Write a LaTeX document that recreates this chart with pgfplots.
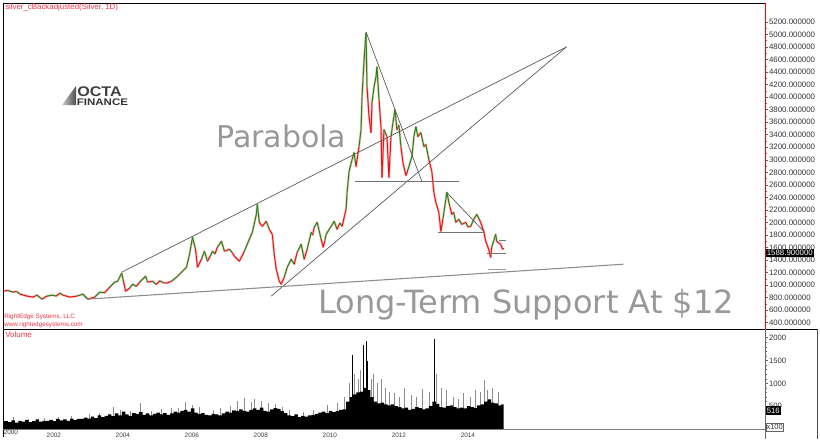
\documentclass[border=0pt]{standalone}
\usepackage{pgfplots}
\pgfplotsset{compat=1.18}
\usepackage{pgfplotstable}
\usepackage{fontspec}
\setmainfont{Liberation Sans}
\newfontfamily\dejavu{DejaVu Sans}
\definecolor{rered}{RGB}{240,50,70}
\definecolor{candlered}{RGB}{232,20,20}
\definecolor{candlegreen}{RGB}{20,140,20}
\definecolor{txtgray}{RGB}{152,152,152}
\definecolor{linegray}{RGB}{85,85,85}

\pgfplotstableread{
t p m
2000.757 904 0
2000.900 915 1
2001.046 888 0
2001.150 900 1
2001.249 857 0
2001.451 825 0
2001.624 809 0
2001.740 841 1
2001.884 777 0
2002.029 825 1
2002.202 841 1
2002.300 825 0
2002.405 872 1
2002.491 841 0
2002.694 809 0
2002.896 825 1
2003.069 857 1
2003.214 777 0
2003.416 809 1
2003.561 888 1
2003.705 880 0
2003.850 968 1
2003.994 1047 1
2004.081 1063 1
2004.197 1191 1
2004.254 1047 0
2004.312 904 0
2004.428 952 1
2004.514 1016 1
2004.620 980 0
2004.717 1047 1
2004.890 1143 1
2004.948 1047 0
2005.092 1063 1
2005.200 1010 0
2005.295 1070 1
2005.400 1040 0
2005.497 1032 0
2005.642 1063 1
2005.786 1127 1
2005.931 1207 1
2006.075 1286 1
2006.162 1493 1
2006.249 1763 1
2006.335 1573 0
2006.393 1286 0
2006.509 1413 1
2006.595 1541 1
2006.682 1382 0
2006.760 1460 1
2006.827 1541 1
2006.900 1500 0
2006.971 1604 1
2007.087 1700 1
2007.173 1541 0
2007.318 1573 1
2007.400 1520 0
2007.462 1461 0
2007.607 1382 0
2007.751 1541 1
2007.896 1732 1
2007.983 1843 1
2008.098 2129 1
2008.127 2288 1
2008.185 2002 0
2008.272 1938 0
2008.387 2018 1
2008.474 1891 0
2008.561 1811 0
2008.618 1493 0
2008.676 1254 0
2008.763 1063 0
2008.821 1016 0
2008.908 1127 1
2008.994 1286 1
2009.110 1413 1
2009.197 1334 0
2009.283 1525 1
2009.399 1652 1
2009.486 1413 0
2009.572 1573 1
2009.688 1843 1
2009.730 1800 0
2009.775 1923 1
2009.861 2002 1
2009.977 1732 0
2010.035 1604 0
2010.080 1700 1
2010.121 1811 1
2010.266 1938 1
2010.353 2018 1
2010.439 1891 0
2010.520 1990 1
2010.584 1938 0
2010.699 2209 1
2010.728 2479 1
2010.786 2813 1
2010.873 3004 1
2010.931 3116 1
2010.988 2893 0
2011.075 3211 1
2011.133 3482 1
2011.162 4007 1
2011.220 4595 1
2011.277 5025 1
2011.306 4166 0
2011.364 3689 0
2011.422 3434 0
2011.451 3911 1
2011.509 4166 1
2011.566 4325 1
2011.595 4484 1
2011.653 3959 0
2011.711 3529 0
2011.740 2718 0
2011.798 3482 1
2011.884 3370 0
2011.942 2718 0
2012.000 3370 1
2012.058 3593 1
2012.116 3800 1
2012.173 3482 0
2012.230 3550 1
2012.289 3211 0
2012.347 2957 0
2012.434 2750 0
2012.480 2820 1
2012.520 2893 1
2012.607 3052 1
2012.665 3370 1
2012.723 3529 1
2012.780 3370 0
2012.867 3434 1
2012.954 3211 0
2013.012 3243 1
2013.098 3004 0
2013.185 2813 0
2013.243 2479 0
2013.301 2320 0
2013.387 2161 0
2013.445 1859 0
2013.503 2050 1
2013.590 2368 1
2013.618 2479 1
2013.705 2257 0
2013.763 2129 0
2013.820 2160 1
2013.879 2002 0
2013.965 2050 1
2014.052 1970 0
2014.168 2002 1
2014.230 1930 0
2014.312 1938 1
2014.399 2050 1
2014.486 2129 1
2014.550 2060 0
2014.601 2002 0
2014.688 1859 0
2014.746 1700 0
2014.832 1573 0
2014.890 1445 0
2014.919 1604 1
2015.035 1811 1
2015.064 1700 0
2015.179 1652 0
2015.237 1573 0
2015.266 1589 1
}\pricetable

\pgfplotstableread{
t v
2000.757 170
2000.9 150
2001.0 190
2001.1 140
2001.2 180
2001.3 160
2001.4 200
2001.5 150
2001.6 170
2001.7 210
2001.8 160
2001.9 180
2002.0 180
2002.1 200
2002.2 170
2002.3 220
2002.4 190
2002.5 210
2002.6 180
2002.7 230
2002.8 200
2002.9 220
2003.0 220
2003.1 250
2003.2 230
2003.3 270
2003.4 240
2003.5 300
2003.6 260
2003.7 290
2003.8 320
2003.9 280
2004.0 340
2004.1 300
2004.2 380
2004.3 320
2004.4 290
2004.5 350
2004.6 330
2004.7 370
2004.8 310
2004.9 340
2005.0 300
2005.1 330
2005.2 360
2005.3 320
2005.4 350
2005.5 310
2005.6 340
2005.7 380
2005.8 360
2005.9 400
2006.0 420
2006.1 380
2006.2 450
2006.3 360
2006.4 330
2006.5 350
2006.6 310
2006.7 300
2006.8 330
2006.9 320
2007.0 300
2007.1 340
2007.2 380
2007.3 360
2007.4 410
2007.5 390
2007.6 430
2007.7 400
2007.8 380
2007.9 420
2008.0 450
2008.1 420
2008.2 470
2008.3 400
2008.4 380
2008.5 430
2008.6 460
2008.7 440
2008.8 390
2008.9 350
2009.0 300
2009.1 280
2009.2 320
2009.3 260
2009.4 290
2009.5 270
2009.6 300
2009.7 310
2009.8 330
2009.9 360
2010.0 380
2010.1 350
2010.2 400
2010.3 370
2010.4 390
2010.5 420
2010.6 430
2010.7 600
2010.8 700
2010.9 760
2011.0 800
2011.1 820
2011.2 900
2011.3 850
2011.4 700
2011.5 600
2011.6 560
2011.7 580
2011.8 540
2011.9 520
2012.0 540
2012.1 500
2012.2 480
2012.3 450
2012.4 470
2012.5 420
2012.6 440
2012.7 480
2012.8 460
2012.9 430
2013.0 450
2013.1 500
2013.2 600
2013.3 550
2013.4 480
2013.5 470
2013.6 500
2013.7 520
2013.8 480
2013.9 450
2014.0 470
2014.1 450
2014.2 500
2014.3 480
2014.4 460
2014.5 520
2014.6 540
2014.7 600
2014.8 650
2014.9 580
2015.0 560
2015.1 520
2015.2 540
2015.266 516
}\voltable

\pgfplotstableread{
t v
2001.05 260
2001.5 230
2001.95 240
2002.35 260
2002.75 290
2003.25 320
2003.55 340
2003.95 480
2004.15 420
2004.45 400
2004.75 560
2005.05 400
2005.35 430
2005.65 470
2005.85 450
2006.05 600
2006.25 520
2006.45 480
2006.85 420
2007.05 450
2007.35 500
2007.55 620
2007.75 680
2007.95 600
2008.05 660
2008.25 620
2008.45 560
2008.65 540
2008.85 480
2009.05 420
2009.45 380
2009.75 420
2010.15 520
2010.45 560
2010.65 700
2010.80 1000
2010.95 1200
2011.05 1100
2011.12 1300
2011.42 1100
2011.50 1200
2011.62 1000
2011.72 1100
2011.85 900
2011.95 820
2012.10 780
2012.25 700
2012.40 900
2012.60 750
2012.75 700
2012.90 880
2013.10 800
2013.32 1200
2013.45 900
2013.60 850
2013.80 700
2013.95 650
2014.10 780
2014.30 700
2014.45 850
2014.60 800
2014.70 1080
2014.80 860
2014.95 900
2015.10 800
}\volspikes

\pgfplotstableread{
t v
2010.87 1620
2011.20 1840
2011.28 1930
2011.33 1500
2013.25 1980
}\volbig

\begin{document}
\begin{tikzpicture}
\useasboundingbox (0,0) rectangle (615pt,-329.25pt);

% ---------------- price panel ----------------
\begin{axis}[
  at={(2.25pt,-2.25pt)}, anchor=north west,
  scale only axis, width=571.5pt, height=244.5pt,
  xmin=2000.757, xmax=2022.84,
  ymin=300, ymax=5502,
  axis line style={draw=none},
  xtick=\empty,
  ytick={400,600,...,5200},
  minor y tick num=1,
  ytick pos=right,
  tick align=outside,
  major tick length=2.25pt, minor tick length=1.2pt,
  tick style={black!60, line width=0.4pt},
  scaled y ticks=false,
  /pgf/number format/assume math mode=true,
  yticklabel style={/pgf/number format/fixed, /pgf/number format/fixed zerofill,
    /pgf/number format/precision=6, /pgf/number format/1000 sep={},
    font=\fontsize{5.9}{6}\selectfont, text=black!80, inner sep=0.6pt},
  colormap={rg}{color=(candlered) color=(candlegreen)},
  point meta min=0, point meta max=1,
]
\addplot[no marks, draw=candlered!28, line width=1.7pt, line join=round] table[x=t, y=p] {\pricetable};
\addplot[mesh, shader=flat corner, point meta=explicit, line width=0.75pt] table[x=t, y=p, meta=m] {\pricetable};

% trend lines
\addplot[linegray, line width=0.5pt] coordinates {(2004.197,1207) (2017.087,4802)};
\addplot[linegray, line width=0.5pt] coordinates {(2008.532,825) (2017.087,4802)};
\addplot[black!45, line width=0.8pt] coordinates {(2003.214,777) (2018.734,1334)};
\addplot[linegray, line width=0.5pt] coordinates {(2011.277,5041) (2012.896,2654)};
\addplot[black!55, line width=0.8pt] coordinates {(2010.96,2654) (2013.965,2654)};
\addplot[linegray, line width=0.5pt] coordinates {(2013.618,2479) (2014.688,1859)};
\addplot[black!55, line width=0.8pt] coordinates {(2013.358,1843) (2014.688,1843)};
\addplot[black!55, line width=0.6pt] coordinates {(2015.12,1720) (2015.32,1720)};
\addplot[black!55, line width=0.6pt] coordinates {(2014.775,1509) (2015.32,1509)};
\addplot[black!40, line width=1pt] coordinates {(2014.80,1254) (2015.32,1254)};
\end{axis}

% ---------------- volume panel ----------------
\begin{axis}[
  at={(2.25pt,-246.75pt)}, anchor=north west,
  scale only axis, width=571.5pt, height=75pt,
  xmin=2000.757, xmax=2022.84,
  ymin=0, ymax=2191,
  axis line style={draw=none},
  xtick={2002,2004,...,2014},
  xtick pos=bottom,
  major x tick style={draw=none},
  ytick={500,1000,1500,2000},
  minor y tick num=4,
  ytick pos=right,
  tick align=outside,
  major tick length=2.25pt, minor tick length=1.2pt,
  tick style={black!60, line width=0.4pt},
  scaled y ticks=false,
  /pgf/number format/assume math mode=true,
  /pgf/number format/1000 sep={},
  yticklabel style={font=\fontsize{5.8}{6}\selectfont, text=black!80, inner sep=0.6pt},
  xticklabel style={font=\fontsize{4.8}{5}\selectfont, text=black!75, anchor=north west, inner sep=0.4pt},
]
\addplot[ycomb, no marks, draw=black!45, line width=0.55pt] table[x=t, y=v] {\volspikes};
\addplot[ycomb, no marks, draw=black, line width=0.6pt] table[x=t, y=v] {\volbig};
\addplot[fill=black, draw=none, const plot mark left] table[x=t, y=v] {\voltable} \closedcycle;
\end{axis}

% ---------------- decorations (pixel coordinates) ----------------
\begin{scope}[x=0.75pt, y=-0.75pt]
\draw[black, line width=0.75pt] (3,437) -- (3,3) -- (765,3);
\draw[red, line width=0.75pt] (765,3) -- (765,329);
\draw[black, line width=0.75pt] (3,329) -- (817,329);
\draw[black!60, line width=0.6pt] (765,329) -- (765,439);
\draw[black!50, line width=0.6pt] (3,429) -- (765,429);
\draw[black!70, line width=0.6pt] (817,329) -- (817,439);

\node[anchor=west, inner sep=0, text=rered, font=\fontsize{5.9}{6}\selectfont] at (5,7.5) {silver\_cBackadjusted(Silver, 1D)};
\node[anchor=west, inner sep=0, text=rered, font=\fontsize{4.75}{5}\selectfont] at (4,317) {RightEdge Systems, LLC};
\node[anchor=west, inner sep=0, text=rered, font=\fontsize{4.75}{5}\selectfont] at (4,324.5) {www.rightedgesystems.com};
\node[anchor=west, inner sep=0, text=rered, font=\fontsize{6}{6}\selectfont] at (5,334.5) {Volume};
\node[anchor=north west, inner sep=0.4pt, text=black!75, font=\fontsize{4.8}{5}\selectfont] at (3,429.5) {2000};

\node[anchor=base west, inner sep=0, text=txtgray, font=\dejavu\fontsize{22.5}{23}\selectfont] at (216,147) {Parabola};
\node[anchor=base west, inner sep=0, text=txtgray, font=\dejavu\fontsize{24}{25}\selectfont] at (318,313) {Long-Term Support At \$12};

% logo
\shade[left color=black!20, right color=black!70] (62,105) -- (76,86) -- (76,105) -- cycle;
\node[anchor=base west, inner sep=0, text=black!75, font=\bfseries\fontsize{10.5}{10}\selectfont, xscale=1.15] at (77,96) {OCTA};
\node[anchor=base west, inner sep=0, text=black!80, font=\bfseries\fontsize{7.2}{7}\selectfont, xscale=1.2] at (76.5,105) {FINANCE};

% last value boxes
\node[anchor=west, fill=black, text=white, inner xsep=0.8pt, inner ysep=1.2pt, font=\fontsize{5.9}{6}\selectfont] at (765.5,253) {1588.900000};
\node[anchor=west, fill=black, text=white, inner xsep=0.8pt, inner ysep=1.2pt, font=\fontsize{5.8}{6}\selectfont] at (765.5,410.5) {516};
\node[anchor=west, fill=white, draw=black!60, line width=0.4pt, text=black!80, inner xsep=0.6pt, inner ysep=1pt, font=\fontsize{5.6}{6}\selectfont] at (765.5,427) {x100};
\end{scope}
\end{tikzpicture}
\end{document}
